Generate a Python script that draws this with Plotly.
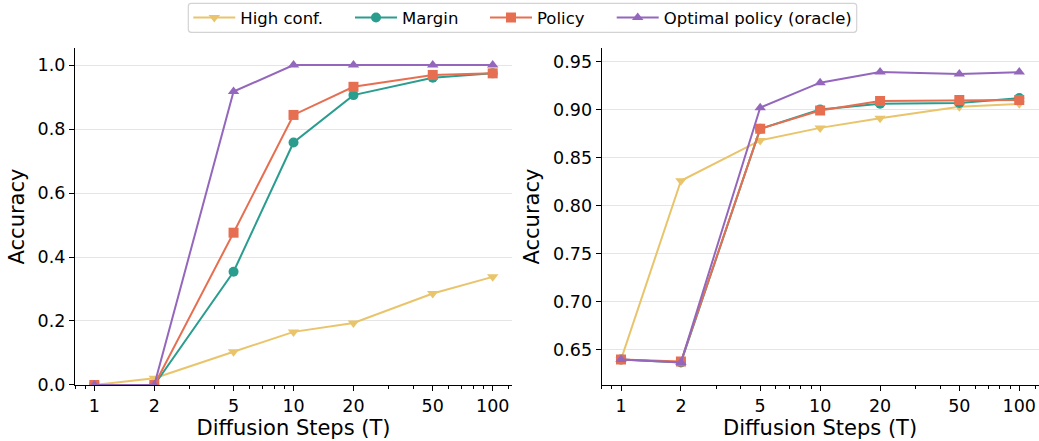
import plotly.graph_objects as go
from plotly.subplots import make_subplots

steps = [1, 2, 5, 10, 20, 50, 100]
tick_labels = ["1", "2", "5", "10", "20", "50", "100"]

series_names = ["High conf.", "Margin", "Policy", "Optimal policy (oracle)"]

left_high_conf = [0.0, 0.021, 0.104, 0.166, 0.194, 0.286, 0.338]
left_margin = [0.0, 0.0, 0.354, 0.758, 0.906, 0.960, 0.974]
left_policy = [0.0, 0.0, 0.476, 0.844, 0.932, 0.969, 0.974]
left_oracle = [0.0, 0.0, 0.917, 1.0, 1.0, 1.0, 1.0]

right_high_conf = [0.640, 0.826, 0.868, 0.881, 0.891, 0.903, 0.906]
right_margin = [0.640, 0.637, 0.880, 0.900, 0.906, 0.907, 0.912]
right_policy = [0.640, 0.638, 0.880, 0.899, 0.909, 0.910, 0.910]
right_oracle = [0.640, 0.637, 0.902, 0.928, 0.939, 0.937, 0.939]

colors = ["#E9C46A", "#2A9D8F", "#E76F51", "#9467BD"]
symbols = ["triangle-down", "circle", "square", "triangle-up"]

W, H = 1039, 441

fig = make_subplots(rows=1, cols=2)

left = [left_high_conf, left_margin, left_policy, left_oracle]
right = [right_high_conf, right_margin, right_policy, right_oracle]
legend_ids = ["legend", "legend2", "legend3", "legend4"]

for col, data in ((1, left), (2, right)):
    for i, ys in enumerate(data):
        fig.add_trace(go.Scatter(
            x=steps, y=ys, mode="lines+markers", name=series_names[i],
            line=dict(color=colors[i], width=2),
            marker=dict(color=colors[i], symbol=symbols[i], size=10),
            showlegend=(col == 1), legendgroup=series_names[i], legend=legend_ids[i],
            cliponaxis=True,
        ), row=1, col=col)

minor_vals = [0.8, 0.9, 3, 4, 6, 7, 8, 9, 30, 40, 60, 70, 80, 90, 120]
xaxis_common = dict(
    type="log", range=[-0.097, 2.097], automargin=False,
    tickvals=steps, ticktext=tick_labels,
    ticks="outside", ticklen=5, tickwidth=1.2, tickcolor="black",
    showline=True, linecolor="black", linewidth=1.2,
    showgrid=False, zeroline=False,
    tickfont=dict(size=17.5, color="black"),
    title=dict(text="Diffusion Steps (T)", font=dict(size=21, color="black"), standoff=4),
    minor=dict(tickvals=minor_vals, ticks="outside", ticklen=3, tickcolor="black", tickwidth=0.8, showgrid=False),
)
yaxis_common = dict(
    automargin=False,
    ticks="outside", ticklen=5, tickwidth=1.2, tickcolor="black",
    showline=True, linecolor="black", linewidth=1.2,
    showgrid=True, gridcolor="#E5E5E5", gridwidth=1, zeroline=False,
    tickfont=dict(size=17.5, color="black"),
    title=dict(text="Accuracy", font=dict(size=21, color="black"), standoff=7),
)

fig.update_xaxes(**xaxis_common)
fig.update_yaxes(**yaxis_common)

# legend frame (pixel positions converted to paper fractions)
bx0, bx1, by0, by1, r = 188.3, 856.7, 3.3, 32.3, 3.0
def px(x):
    return x / W
def py(y):
    return 1 - y / H
frame_path = (
    f"M {px(bx0 + r)},{py(by0)} L {px(bx1 - r)},{py(by0)} "
    f"Q {px(bx1)},{py(by0)} {px(bx1)},{py(by0 + r)} "
    f"L {px(bx1)},{py(by1 - r)} Q {px(bx1)},{py(by1)} {px(bx1 - r)},{py(by1)} "
    f"L {px(bx0 + r)},{py(by1)} Q {px(bx0)},{py(by1)} {px(bx0)},{py(by1 - r)} "
    f"L {px(bx0)},{py(by0 + r)} Q {px(bx0)},{py(by0)} {px(bx0 + r)},{py(by0)} Z"
)
fig.add_shape(type="path", path=frame_path, xref="paper", yref="paper",
              line=dict(color="#D3D3D3", width=1.2), fillcolor="white", layer="above")

legend_line_starts = [193.3, 355.0, 490.0, 616.7]
legend_common = dict(orientation="h", xanchor="left", yanchor="middle", y=py(17.8),
                     bgcolor="rgba(0,0,0,0)", borderwidth=0,
                     font=dict(size=16.5, color="black"), itemwidth=42)
legend_layouts = {}
for lid, xs in zip(legend_ids, legend_line_starts):
    legend_layouts[lid] = dict(legend_common, x=px(xs - 5))

fig.update_layout(
    width=W, height=H,
    margin=dict(l=0, r=0, t=0, b=0, autoexpand=False),
    paper_bgcolor="white", plot_bgcolor="white",
    font=dict(family="DejaVu Sans", color="black"),
    xaxis=dict(domain=[0.0722, 0.4928]),
    xaxis2=dict(domain=[0.5791, 0.9996]),
    yaxis=dict(domain=[0.127, 0.891], range=[0, 1.053], tickvals=[0, 0.2, 0.4, 0.6, 0.8, 1.0],
               ticktext=["0.0", "0.2", "0.4", "0.6", "0.8", "1.0"]),
    yaxis2=dict(domain=[0.127, 0.891], range=[0.6136, 0.964],
                tickvals=[0.65, 0.70, 0.75, 0.80, 0.85, 0.90, 0.95],
                ticktext=["0.65", "0.70", "0.75", "0.80", "0.85", "0.90", "0.95"]),
    **legend_layouts,
)

fig.write_html("out.html")
